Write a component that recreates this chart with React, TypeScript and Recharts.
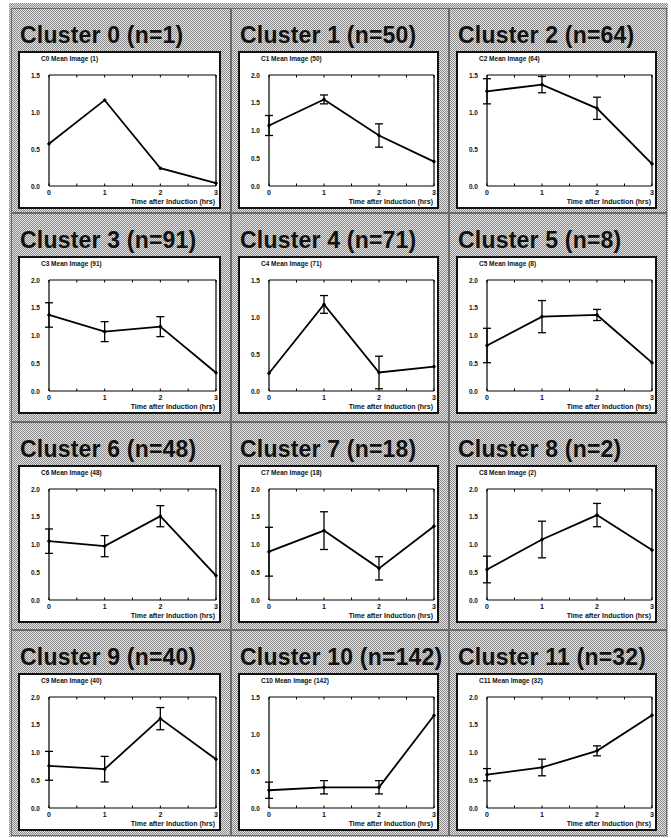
import React from 'react';
import { LineChart, Line, XAxis, YAxis, ErrorBar } from 'recharts';

const clusterIds = [0, 1, 2, 3, 4, 5, 6, 7, 8, 9, 10, 11];
const clusterSizes = [1, 50, 64, 91, 71, 8, 48, 18, 2, 40, 142, 32];
const timePoints = [0, 1, 2, 3];
const xTickValues = [0, 0.5, 1, 1.5, 2, 2.5, 3];
const xTickLabels = ['0', '1', '2', '3'];
const yTicks4 = [0, 0.5, 1, 1.5];
const yTicks5 = [0, 0.5, 1, 1.5, 2];
const yTickLabels = ['0.0', '0.5', '1.0', '1.5', '2.0'];
const yTickCount = [4, 5, 4, 5, 4, 5, 5, 5, 5, 5, 4, 5];
const xAxisTitle = 'Time after Induction (hrs)';

const meanC0 = [0.57, 1.16, 0.24, 0.04];
const errC0 = [0, 0, 0, 0];
const meanC1 = [1.09, 1.56, 0.91, 0.44];
const errC1 = [0.18, 0.08, 0.21, 0];
const meanC2 = [1.28, 1.37, 1.05, 0.3];
const errC2 = [0.17, 0.11, 0.15, 0];
const meanC3 = [1.37, 1.07, 1.16, 0.33];
const errC3 = [0.22, 0.18, 0.18, 0];
const meanC4 = [0.24, 1.17, 0.25, 0.33];
const errC4 = [0, 0.12, 0.22, 0];
const meanC5 = [0.82, 1.34, 1.37, 0.51];
const errC5 = [0.31, 0.29, 0.1, 0];
const meanC6 = [1.06, 0.97, 1.51, 0.44];
const errC6 = [0.22, 0.19, 0.19, 0];
const meanC7 = [0.87, 1.25, 0.57, 1.33];
const errC7 = [0.44, 0.34, 0.21, 0];
const meanC8 = [0.55, 1.09, 1.53, 0.9];
const errC8 = [0.24, 0.33, 0.21, 0];
const meanC9 = [0.76, 0.7, 1.61, 0.88];
const errC9 = [0.26, 0.23, 0.2, 0];
const meanC10 = [0.24, 0.28, 0.28, 1.25];
const errC10 = [0.11, 0.09, 0.09, 0];
const meanC11 = [0.6, 0.73, 1.03, 1.67];
const errC11 = [0.11, 0.15, 0.09, 0];

const allMeans = [meanC0, meanC1, meanC2, meanC3, meanC4, meanC5, meanC6, meanC7, meanC8, meanC9, meanC10, meanC11];
const allErrs = [errC0, errC1, errC2, errC3, errC4, errC5, errC6, errC7, errC8, errC9, errC10, errC11];

const colLeft = [11, 231, 449];
const colWidth = [220, 218, 218];
const rowTop = [8, 213, 422, 630];
const rowHeight = [205, 209, 208, 206];

const PATTERN: React.CSSProperties = {
  backgroundImage: 'repeating-conic-gradient(#8a8a8a 0% 25%, #e4e4e4 0% 50%)',
  backgroundSize: '2px 2px',
};

const smallFont = '"Liberation Sans", Arial, sans-serif';

const BottomTick = (props: any) => {
  const { x, y, payload } = props;
  const v = payload.value;
  const major = Number.isInteger(v);
  return (
    <g>
      <line x1={x} x2={x} y1={y} y2={y - 2.5} stroke="#000" strokeWidth={1} />
      {major && (
        <text x={x} y={y + 9} textAnchor="middle" fontSize={7} fontWeight="bold" fontFamily={smallFont} fill="#111">
          {xTickLabels[v]}
        </text>
      )}
    </g>
  );
};

const TopTick = (props: any) => {
  const { x, y } = props;
  return <line x1={x} x2={x} y1={y} y2={y + 2.5} stroke="#000" strokeWidth={1} />;
};

const LeftTick = (props: any) => {
  const { x, y, payload } = props;
  const idx = Math.round(payload.value * 2);
  return (
    <text x={x - 9} y={y + 2.5} textAnchor="end" fontSize={6.5} fontWeight="bold" fontFamily={smallFont} fill="#111">
      {yTickLabels[idx]}
    </text>
  );
};

function Panel({ i }: { i: number }) {
  const col = i % 3;
  const row = Math.floor(i / 3);
  const left = colLeft[col];
  const top = rowTop[row];
  const w = colWidth[col];
  const h = rowHeight[row];
  const boxW = w - 17;
  const boxH = 158;
  const innerW = boxW - 4;
  const innerH = boxH - 4;
  const ticks = yTickCount[i] === 4 ? yTicks4 : yTicks5;
  const yMax = ticks[ticks.length - 1];
  const data = timePoints.map((t, k) => ({ t, mean: allMeans[i][k], err: allErrs[i][k] }));
  return (
    <div
      style={{
        position: 'absolute',
        left,
        top,
        width: w,
        height: h,
        boxSizing: 'border-box',
        border: '1px solid #6a6a6a',
        ...PATTERN,
      }}
    >
      <div
        style={{
          position: 'absolute',
          left: 8,
          top: 15,
          fontFamily: '"Liberation Sans", Arial, sans-serif',
          fontWeight: 'bold',
          fontSize: 23,
          lineHeight: '23px',
          color: '#111',
          whiteSpace: 'nowrap',
          letterSpacing: 0.2,
        }}
      >
        {`Cluster ${clusterIds[i]} (n=${clusterSizes[i]})`}
      </div>
      <div
        style={{
          position: 'absolute',
          left: 6,
          top: 42,
          width: boxW,
          height: boxH,
          boxSizing: 'border-box',
          border: '2px solid #111',
          background: '#fff',
        }}
      >
        <div
          style={{
            position: 'absolute',
            left: 21,
            top: 2,
            fontFamily: smallFont,
            fontWeight: 'bold',
            fontSize: 6.5,
            color: '#111',
            whiteSpace: 'nowrap',
          }}
        >
          {`C${clusterIds[i]} Mean Image (${clusterSizes[i]})`}
        </div>
        <LineChart
          width={innerW}
          height={innerH}
          data={data}
          margin={{ top: 21, right: 2, left: 0, bottom: 0 }}
        >
          <XAxis
            dataKey="t"
            type="number"
            domain={[0, 3]}
            ticks={xTickValues}
            interval={0}
            height={21}
            tickSize={0}
            tickMargin={0}
            tickLine={false}
            tick={BottomTick}
            axisLine={{ stroke: '#000', strokeWidth: 1.2 }}
          />
          <XAxis
            xAxisId="top"
            dataKey="t"
            orientation="top"
            type="number"
            domain={[0, 3]}
            ticks={xTickValues}
            interval={0}
            height={1}
            tickSize={0}
            tickMargin={0}
            tickLine={false}
            tick={TopTick}
            axisLine={{ stroke: '#000', strokeWidth: 1.2 }}
          />
          <YAxis
            type="number"
            domain={[0, yMax]}
            ticks={ticks}
            interval={0}
            width={29}
            tickSize={0}
            tickMargin={0}
            tickLine={false}
            tick={LeftTick}
            axisLine={{ stroke: '#000', strokeWidth: 1.2 }}
          />
          <YAxis
            yAxisId="right"
            orientation="right"
            type="number"
            domain={[0, yMax]}
            ticks={ticks}
            width={1}
            tick={false}
            tickLine={false}
            axisLine={{ stroke: '#000', strokeWidth: 1.2 }}
          />
          <Line
            xAxisId="top"
            yAxisId="right"
            dataKey="mean"
            stroke="none"
            dot={false}
            activeDot={false}
            legendType="none"
            isAnimationActive={false}
          />
          <Line
            dataKey="mean"
            stroke="#000"
            strokeWidth={1.8}
            dot={{ r: 1.3, fill: '#000', stroke: '#000', strokeWidth: 1 }}
            isAnimationActive={false}
          >
            <ErrorBar dataKey="err" width={4} stroke="#000" strokeWidth={1.3} direction="y" />
          </Line>
        </LineChart>
        <div
          style={{
            position: 'absolute',
            right: 4,
            top: 145,
            fontFamily: smallFont,
            fontWeight: 'bold',
            fontSize: 7,
            color: '#111',
            whiteSpace: 'nowrap',
          }}
        >
          {xAxisTitle}
        </div>
      </div>
    </div>
  );
}

export default function App() {
  return (
    <div
      style={{
        position: 'absolute',
        left: 0,
        top: 0,
        width: 671,
        height: 838,
        background: '#fff',
        overflow: 'hidden',
      }}
    >
      <div
        style={{
          position: 'absolute',
          left: 9,
          top: 3,
          width: 659,
          height: 834,
          ...PATTERN,
        }}
      />
      {clusterIds.map((id, i) => (
        <Panel key={id} i={i} />
      ))}
    </div>
  );
}
